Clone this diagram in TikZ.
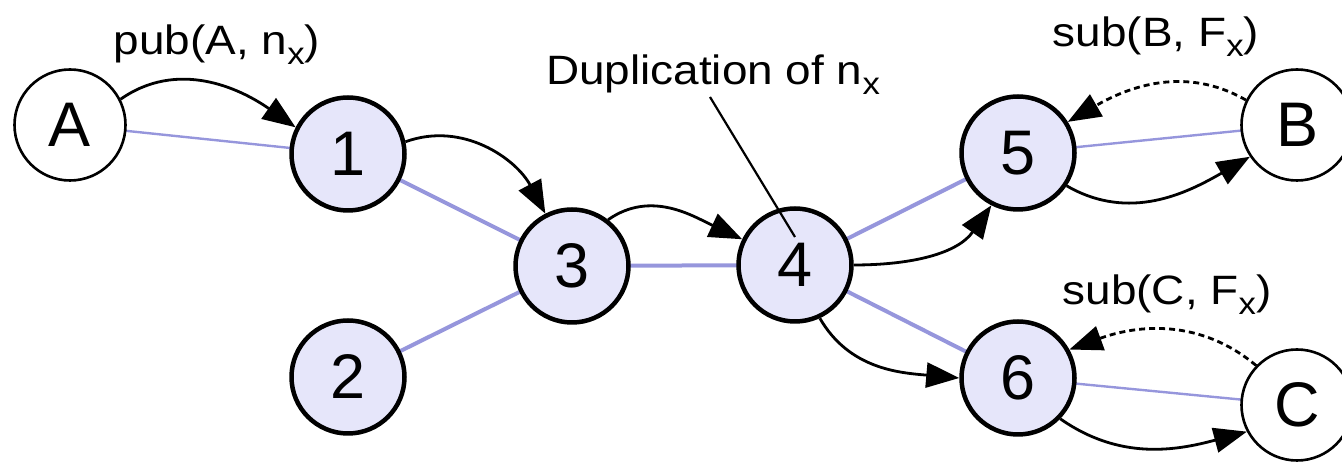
\documentclass[tikz,border=0pt]{standalone}
\usepackage{fontspec}
\setmainfont{Liberation Sans}
\usepackage{graphicx}
\usetikzlibrary{arrows.meta}

\definecolor{peerfill}{RGB}{230,230,250}
\definecolor{linkblue}{RGB}{150,150,220}

% subscript "x" and the slightly widened caption text
\newcommand{\subx}{\raisebox{-0.22em}{\fontsize{31}{31}\selectfont x}}
\newcommand{\msgtext}[1]{\scalebox{1.12}[1]{\fontsize{41}{48}\selectfont #1}}

\begin{document}
\begin{tikzpicture}[x=1pt,y=1pt,
  peer/.style={circle,draw,line width=4.5pt,fill=peerfill,minimum size=113pt,
    inner sep=0pt,font=\fontsize{63}{63}\selectfont},
  client/.style={circle,draw,line width=2.6pt,fill=white,minimum size=111pt,
    inner sep=0pt,font=\fontsize{63}{63}\selectfont},
  link/.style={linkblue,line width=4pt},
  thinlink/.style={linkblue,line width=2.4pt},
  msg/.style={line width=2.8pt,-{Triangle[length=33pt,width=25pt]}},
  req/.style={msg,dash pattern=on 6pt off 4pt},
  lbl/.style={anchor=base,inner sep=0pt}]
\useasboundingbox (0,0) rectangle (1342,462);

% overlay links between broker nodes and clients
\coordinate (cA) at (70,337);
\coordinate (c1) at (348,308);
\coordinate (c2) at (348,85);
\coordinate (c3) at (572,196);
\coordinate (c4) at (795,197);
\coordinate (c5) at (1018,309);
\coordinate (c6) at (1018,84);
\coordinate (cB) at (1297,337);
\coordinate (cC) at (1297,57);

\draw[thinlink] (cA) -- (c1);
\draw[link] (c1) -- (c3);
\draw[link] (c2) -- (c3);
\draw[link] (c3) -- (c4);
\draw[link] (c4) -- (c5);
\draw[link] (c4) -- (c6);
\draw[thinlink] (c5) -- (cB);
\draw[thinlink] (c6) -- (cC);

% nodes
\node[client] (A) at (cA) {A};
\node[peer] (n1) at (c1) {1};
\node[peer] (n2) at (c2) {2};
\node[peer] (n3) at (c3) {3};
\node[peer] (n4) at (c4) {4};
\node[peer] (n5) at (c5) {5};
\node[peer] (n6) at (c6) {6};
\node[client] (B) at (cB) {B};
\node[client] (C) at (cC) {C};

% labels
\node[lbl] (pub) at (217,407) {\msgtext{pub(A, n\subx)}};
\node[lbl] (dup) at (713,377) {\msgtext{Duplication of n\subx}};
\node[lbl] (subB) at (1156,415) {\msgtext{sub(B, F\subx)}};
\node[lbl] (subC) at (1167,157) {\msgtext{sub(C, F\subx)}};

% message flow
\draw[msg] (A.27) to[out=35,in=145] (n1.153);
\draw[msg] (n1.12) to[out=20,in=118] (n3.117);
\draw[msg] (n3.52) to[out=35,in=155] (n4.154);
\draw[msg] (n4.0) to[out=0,in=235] (n5.243);
\draw[msg] (n4.-65) to[out=-60,in=175] (n6.180);
\draw[msg] (n5.-34) to[out=-30,in=210] (B.214);
\draw[msg] (n6.-44) to[out=-35,in=195] (C.208);

% subscription requests
\draw[req] (B.154) to[out=150,in=30] (n5.32);
\draw[req] (C.136) to[out=140,in=20] (n6.29);

% pointer to the duplicating node
\coordinate (dupend) at ([yshift=28pt]n4.center);
\draw[line width=2.2pt] ([xshift=-3pt,yshift=-12pt]dup.base) -- (dupend);
\end{tikzpicture}
\end{document}
